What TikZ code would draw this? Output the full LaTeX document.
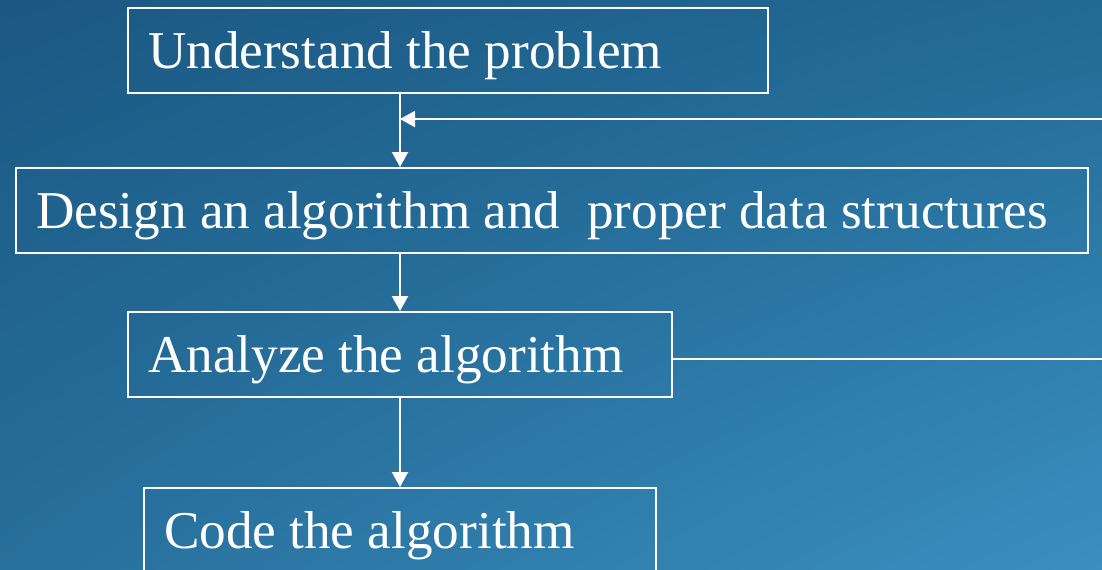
\documentclass[tikz,border=0pt]{standalone}
\usepackage{fontspec}
\setmainfont{Liberation Serif}
\usetikzlibrary{arrows.meta,calc,shadings}

\definecolor{bgtl}{HTML}{1B5883}
\definecolor{bgtr}{HTML}{226A96}
\definecolor{bgbl}{HTML}{276F9C}
\definecolor{bgbr}{HTML}{3A8FBF}

\tikzset{
  stepbox/.style={draw=white, line width=1pt, anchor=north west, inner xsep=10pt,
    minimum height=42.5pt, text height=17.6pt, text depth=0pt, align=flush left,
    text=white, font=\fontsize{26.6}{30}\selectfont},
  flow/.style={draw=white, line width=1pt, -{Triangle[width=8pt,length=7.5pt]}},
}

\begin{document}
\begin{tikzpicture}[x=0.5pt,y=-0.5pt]
				%%%%% BACKGROUND %%%%%
				\def\pw{1102}
				\def\ph{569}
				\useasboundingbox (0,0) rectangle (\pw,\ph);
				\clip (0,0) rectangle (\pw,\ph);
				\shade[upper left=bgtl, upper right=bgtr, lower left=bgbl, lower right=bgbr]
				  (0,0) rectangle (\pw,\ph);

				%%%%% BOXES %%%%%
				\node[stepbox, text width=300pt] (under) at (127,7) {Understand the problem};
				\node[stepbox, text width=516pt] (design) at (15,167) {Design an algorithm and\ \ proper data structures};
				\node[stepbox, text width=252pt] (ana) at (127,311) {Analyze the algorithm};
				\node[stepbox, text width=236pt] (code) at (143,487) {Code the algorithm};

				%%%%% ARROWS %%%%%
				\draw[flow] (under.south -| ana.north) -- (design.north -| ana.north);
				\draw[flow] (design.south -| ana.north) -- (ana.north);
				\draw[flow] (ana.south) -- (code.north -| ana.south);

				% loop back from the analysis step (runs off the right edge)
				\coordinate (back) at (\pw+20,359);
				\coordinate (backtop) at (\pw+20,119);
				\draw[flow] (ana.east |- back) -- (back) -- (backtop) -- (backtop -| ana.north);
\end{tikzpicture}
\end{document}
